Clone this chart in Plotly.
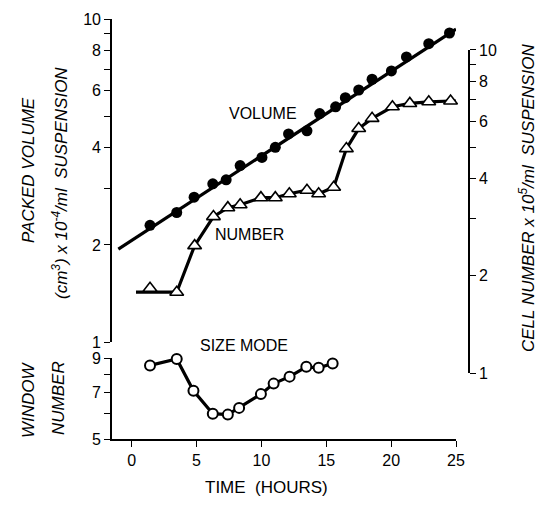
import plotly.graph_objects as go

# ---- data ----
hours_volume = [1.41, 3.47, 4.81, 6.25, 7.28, 8.36, 10.04, 11.07, 12.09, 13.51,
                14.49, 15.72, 16.47, 17.50, 18.53, 20.02, 21.18, 22.90, 24.50]
volume = [2.30, 2.52, 2.81, 3.09, 3.18, 3.52, 3.73, 4.01, 4.41, 4.51,
          5.10, 5.35, 5.71, 6.03, 6.51, 6.91, 7.63, 8.39, 9.05]

fit_hours = [-1.03, 25.0]
fit_volume = [1.94, 9.31]

hours_number = [1.41, 3.47, 4.85, 6.30, 7.41, 8.36, 9.96, 11.07, 12.15, 13.51,
                14.41, 15.57, 16.55, 17.50, 18.53, 20.10, 21.44, 22.90, 24.58]
number = [1.83, 1.78, 2.48, 3.05, 3.25, 3.32, 3.49, 3.49, 3.59, 3.68,
          3.59, 3.76, 4.95, 5.71, 6.14, 6.67, 6.83, 6.91, 6.95]

number_curve_hours = [0.33, 3.47, 4.85, 6.30, 7.41, 8.36, 9.96, 11.07, 12.15, 13.51,
                      14.41, 15.57, 16.55, 17.50, 18.53, 20.10, 21.44, 22.90, 24.58, 25.4]
number_curve = [1.78, 1.78, 2.48, 3.05, 3.25, 3.32, 3.49, 3.49, 3.59, 3.68,
                3.59, 3.76, 4.95, 5.71, 6.14, 6.67, 6.83, 6.91, 6.95, 6.95]

hours_size = [1.41, 3.47, 4.76, 6.25, 7.41, 8.28, 9.96, 10.94, 12.17, 13.46, 14.41, 15.49]
size_mode = [8.54, 8.95, 7.10, 6.01, 5.97, 6.27, 6.93, 7.48, 7.87, 8.45, 8.39, 8.66]

x_ticks = [0, 5, 10, 15, 20, 25]
vol_ticks = [1, 2, 4, 6, 8, 10]
vol_minor = [3, 5, 7, 9]
num_ticks = [1, 2, 4, 6, 8, 10]
num_minor = [3, 5, 7, 9]
win_ticks = [5, 7, 9]
win_minor = [6, 8]

FONT = "Liberation Sans"
BLACK = "black"

fig = go.Figure()

fig.add_trace(go.Scatter(x=fit_hours, y=fit_volume, mode="lines",
                         line=dict(color=BLACK, width=3.2), xaxis="x", yaxis="y",
                         showlegend=False, hoverinfo="skip"))
fig.add_trace(go.Scatter(x=hours_volume, y=volume, mode="markers",
                         marker=dict(symbol="circle", size=11, color=BLACK),
                         xaxis="x", yaxis="y", showlegend=False, cliponaxis=False))

fig.add_trace(go.Scatter(x=number_curve_hours, y=number_curve, mode="lines",
                         line=dict(color=BLACK, width=3.2), xaxis="x", yaxis="y2",
                         showlegend=False, hoverinfo="skip"))
fig.add_trace(go.Scatter(x=hours_number, y=number, mode="markers",
                         marker=dict(symbol="triangle-up", size=12, color="white",
                                     line=dict(color=BLACK, width=1.6)),
                         xaxis="x", yaxis="y2", showlegend=False, cliponaxis=False))

fig.add_trace(go.Scatter(x=hours_size, y=size_mode, mode="lines+markers",
                         line=dict(color=BLACK, width=3.2),
                         marker=dict(symbol="circle", size=10, color="white",
                                     line=dict(color=BLACK, width=2)),
                         xaxis="x", yaxis="y3", showlegend=False, cliponaxis=False))

axis_common = dict(showline=True, linecolor=BLACK, linewidth=1.6, ticks="outside",
                   ticklen=6, tickwidth=1.4, tickcolor=BLACK, showgrid=False,
                   zeroline=False, tickfont=dict(family=FONT, size=16, color=BLACK))


def minor(vals):
    return dict(tickvals=vals, ticks="outside", ticklen=6, tickwidth=1.4,
                tickcolor=BLACK, showgrid=False)


fig.update_layout(
    width=542, height=516, autosize=False,
    margin=dict(l=112, r=73, t=19, b=77),
    paper_bgcolor="white", plot_bgcolor="rgba(0,0,0,0)",
    xaxis=dict(domain=[0, 0.9636], range=[-1.52, 25], anchor="y3",
               tickvals=x_ticks, **axis_common),
    yaxis=dict(domain=[0.2304, 1.0], type="log", range=[0, 1], anchor="x",
               tickvals=vol_ticks, minor=minor(vol_minor), **axis_common),
    yaxis2=dict(domain=[0.1568, 0.9264], type="log", range=[0, 1], anchor="free",
                position=1.0, side="right", tickvals=num_ticks, minor=minor(num_minor),
                **axis_common),
    yaxis3=dict(domain=[0, 0.1924], type="log", range=[0.69897, 0.95424], anchor="x",
                tickvals=win_ticks, minor=minor(win_minor), **axis_common),
)

ann_font = dict(family=FONT, size=16, color=BLACK)
title_font = dict(family=FONT, size=17, color=BLACK)
annotations = [
    dict(text="VOLUME", x=263, y=114, font=ann_font),
    dict(text="NUMBER", x=249, y=235, font=ann_font),
    dict(text="SIZE MODE", x=244, y=345, font=ann_font),
    dict(text="TIME  (HOURS)", x=266, y=487, font=dict(family=FONT, size=17, color=BLACK)),
    dict(text="<i>PACKED VOLUME</i>", x=28, y=170, font=title_font, textangle=-90),
    dict(text="<i>(cm<sup>3</sup>) x 10<sup>-4</sup>/ml  SUSPENSION</i>", x=60, y=183,
         font=title_font, textangle=-90),
    dict(text="<i>WINDOW</i>", x=28, y=400, font=title_font, textangle=-90),
    dict(text="<i>NUMBER</i>", x=58, y=398, font=title_font, textangle=-90),
    dict(text="<i>CELL NUMBER x 10<sup>5</sup>/ml  SUSPENSION</i>", x=527, y=198,
         font=title_font, textangle=-90),
]
plot_w = 542 - 112 - 73
plot_h = 516 - 19 - 77
for a in annotations:
    fig.add_annotation(xref="paper", yref="paper",
                       x=(a.pop("x") - 112) / plot_w,
                       y=(516 - 77 - a.pop("y")) / plot_h,
                       showarrow=False, xanchor="center", yanchor="middle", **a)

fig.write_html("out.html", config={"displayModeBar": False},
               post_script="document.body.style.margin='0';")
